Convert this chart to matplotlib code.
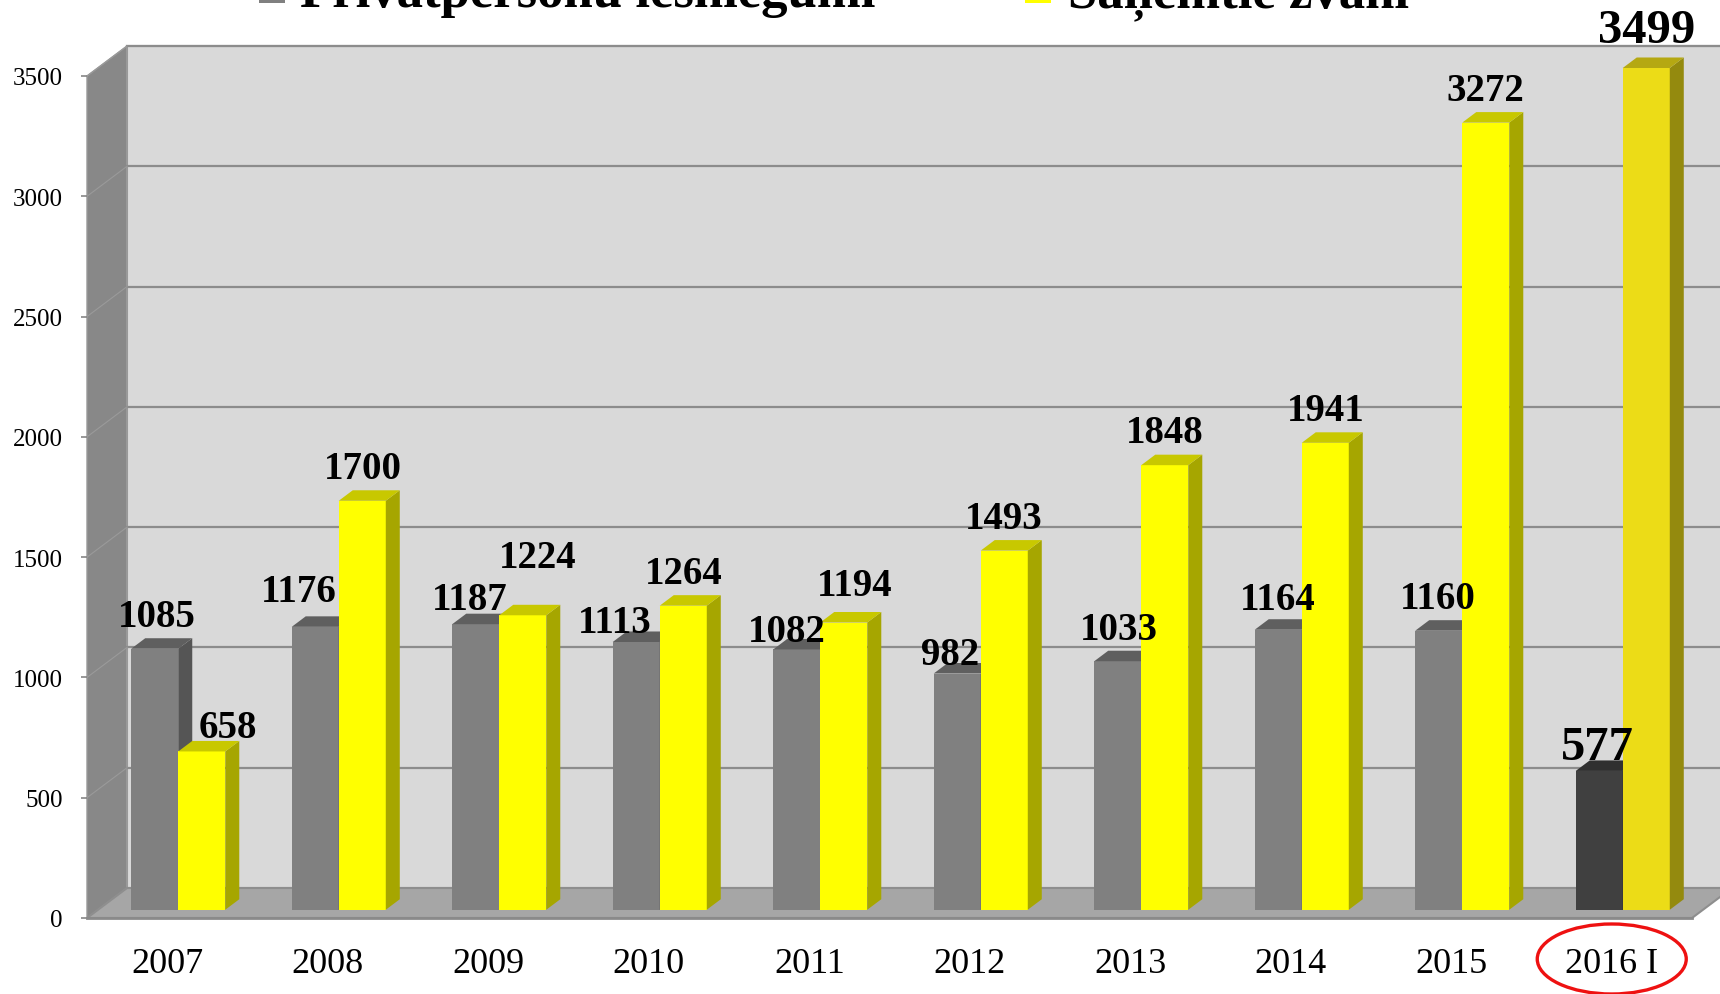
import numpy as np
import matplotlib.pyplot as plt
from matplotlib.patches import Ellipse, Rectangle

years = ["2007", "2008", "2009", "2010", "2011", "2012", "2013", "2014", "2015", "2016 I"]
iesniegumi = [1085, 1176, 1187, 1113, 1082, 982, 1033, 1164, 1160, 577]
zvani = [658, 1700, 1224, 1264, 1194, 1493, 1848, 1941, 3272, 3499]
series_names = ["Privātpersonu iesniegumi", "Saņemtie zvani"]

# label nudges in pixels (dx, dy up) - excel moved some labels to avoid overlap
nudge_grey = [(2, 0), (-16, 3), (-6, -7), (-21, -13), (-10, -14), (-7, -13), (1, 0), (0, -2), (-1, 0), (-2, -8)]
nudge_yel = [(26, -8), (1, 0), (15, 26), (0, 0), (11, 5), (-1, 0), (0, 1), (0, 0), (0, 0), (0, 6)]

plt.rcParams["font.family"] = ["Liberation Serif", "DejaVu Serif"]

W, H = 1720, 995
fig = plt.figure(figsize=(W / 100, H / 100), dpi=100)
ax = fig.add_axes([87 / W, 76 / H, 1605 / W, 842 / H])
ax.set_xlim(-0.5, 9.5)
ax.set_ylim(0, 3500)
ax.patch.set_visible(False)
for sp in ax.spines.values():
    sp.set_visible(False)

# pixel -> data units
px_x = 1605 / 10.0
px_y = 842 / 3500.0
DEPTH_X, DEPTH_Y = 40, 30   # floor depth in pixels


def proj(x, y, z):
    # oblique projection, z = 0 front .. 1 back wall
    return x + z * DEPTH_X / px_x, y + z * DEPTH_Y / px_y


def face(pts, **kw):
    xy = [proj(*p) for p in pts]
    ax.fill([p[0] for p in xy], [p[1] for p in xy], clip_on=False, **kw)


x0, x1, ytop = -0.5, 9.5, 3500
# walls and floor
face([(x0, 0, 0), (x0, 0, 1), (x0, ytop, 1), (x0, ytop, 0)], fc="#888888", ec="#999999", lw=1, zorder=1)
face([(x0, 0, 1), (x1, 0, 1), (x1, ytop, 1), (x0, ytop, 1)], fc="#d9d9d9", ec="#999999", lw=1.5, zorder=1)
face([(x0, 0, 0), (x1, 0, 0), (x1, 0, 1), (x0, 0, 1)], fc="#a6a6a6", ec="#8e8e8e", lw=1.5, zorder=1.5)

for g in range(500, 3501, 500):
    a, b = proj(x0, g, 1), proj(x1, g, 1)
    ax.plot([a[0], b[0]], [a[1], b[1]], color="#8c8c8c", lw=1.6, zorder=1.2, clip_on=False)
    a, b = proj(x0, g, 0), proj(x0, g, 1)
    ax.plot([a[0], b[0]], [a[1], b[1]], color="#9a9a9a", lw=0.8, zorder=1.2, clip_on=False)

a, b = proj(x0, 0, 0), proj(x1, 0, 0)
ax.plot([a[0], b[0]], [a[1], b[1]], color="#8a8a8a", lw=2, zorder=1.6, clip_on=False)

# bars
bw = 0.293
zf, zb = 0.275, 0.625
fx, fy = proj(0, 0, zf)
cols_grey = [("#808080", "#555555", "#5f5f5f")] * 9 + [("#404040", "#2a2a2a", "#303030")]
cols_yel = [("#ffff00", "#a6a600", "#c8c800")] * 9 + [("#ecdc17", "#948a0e", "#b5a812")]

idx = np.arange(len(years))
for s, (vals, cols) in enumerate([(iesniegumi, cols_grey), (zvani, cols_yel)]):
    left = idx - bw + s * bw
    for i in idx:
        zo = 3 + i * 0.1 + s * 0.05
        ax.bar(left[i] + fx, vals[i], bw, bottom=fy, align="edge", color=cols[i][0],
               lw=0, zorder=zo, clip_on=False)
        r = left[i] + bw
        v = vals[i]
        face([(r, 0, zf), (r, v, zf), (r, v, zb), (r, 0, zb)], fc=cols[i][1], lw=0, zorder=zo)
        face([(left[i], v, zf), (r, v, zf), (r, v, zb), (left[i], v, zb)], fc=cols[i][2], lw=0, zorder=zo)

# data labels
lab_off = 32 / px_y
for s, (vals, nudges) in enumerate([(iesniegumi, nudge_grey), (zvani, nudge_yel)]):
    for i, v in enumerate(vals):
        cx = i - bw / 2 + s * bw + fx + nudges[i][0] / px_x
        cy = v + fy + lab_off + nudges[i][1] / px_y
        size = 35 if i == len(vals) - 1 else 28
        ax.text(cx, cy, str(v), ha="center", va="center", fontsize=size,
                fontweight="bold", zorder=10, clip_on=False)

ax.set_yticks(range(0, 3501, 500))
ax.tick_params(axis="y", length=4.3, width=1.2, color="#868686", pad=13, labelsize=18)
ax.set_xticks(idx)
ax.set_xticklabels(years)
ax.tick_params(axis="x", length=0, pad=21, labelsize=26)

# red ring around the last category
ax.add_patch(Ellipse((9, -41 / px_y), 149 / px_x, 70 / px_y, fill=False,
                     ec="#ee1111", lw=2.4, clip_on=False, zorder=5))

# legend, cut by the top of the picture
fig.patches.append(Rectangle((259 / W, 1 - 4 / H), 26 / W, 26 / H, transform=fig.transFigure,
                             fc="#808080", ec="none"))
fig.patches.append(Rectangle((1025 / W, 1 - 4 / H), 26 / W, 26 / H, transform=fig.transFigure,
                             fc="#ffff00", ec="none"))
fig.text(300 / W, 1 - 7 / H, series_names[0], fontsize=38, fontweight="bold", va="baseline")
fig.text(1068 / W, 1 - 7 / H, series_names[1], fontsize=38, fontweight="bold", va="baseline")

fig.savefig("out.png", dpi=100)
